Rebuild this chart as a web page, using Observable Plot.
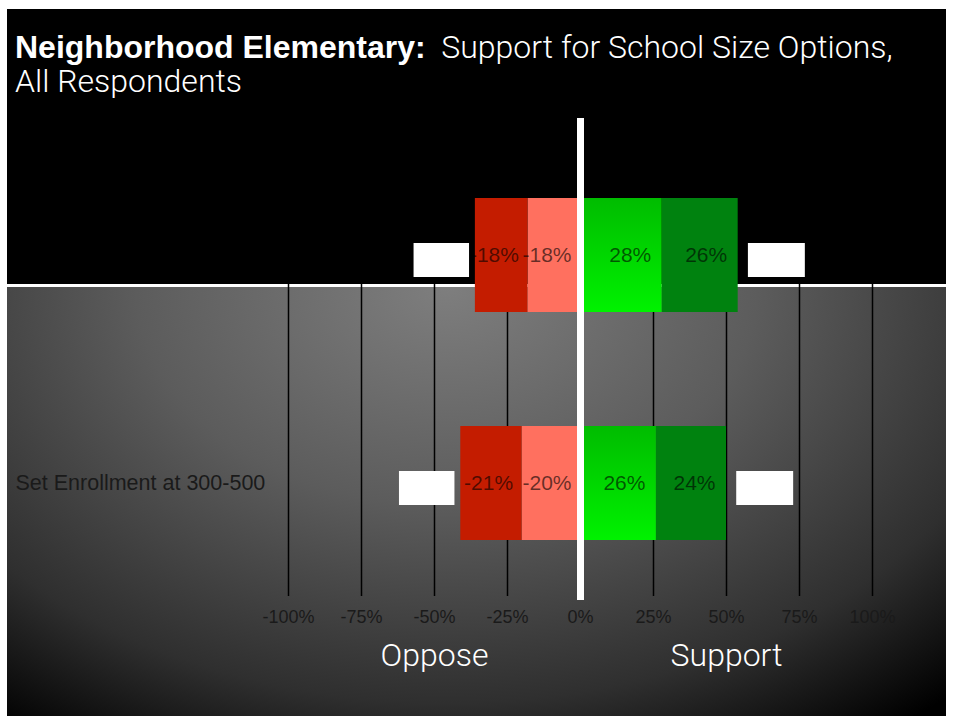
<!DOCTYPE html>
<html>
<head>
<meta charset="utf-8">
<script src="https://cdn.jsdelivr.net/npm/d3@7"></script>
<script src="https://cdn.jsdelivr.net/npm/@observablehq/plot@0.6"></script>
<style>
  html, body { margin: 0; padding: 0; background: #fff; }
  #stage { position: relative; width: 953px; height: 724px; overflow: hidden; }
  #bgTop { position: absolute; left: 7px; top: 9px; width: 939px; height: 707px; background: #000; }
  #bgLower {
    position: absolute; left: 7px; top: 284px; width: 939px; height: 429px;
    border-top: 3px solid #fff;
    background: radial-gradient(ellipse 740px 520px at 440px 0px, #7e7e7e 0%, #5c5c5c 42%, #2f2f2f 80%, #000 104%);
  }
  #title {
    position: absolute; left: 15px; top: 30px; color: #fff;
    font-size: 32px; line-height: 34px; white-space: nowrap;
    font-family: "Liberation Sans", Arial, sans-serif;
  }
  #title b { font-weight: 700; font-family: "Liberation Sans", Arial, sans-serif; }
  #title span { font-family: Roboto, "Liberation Sans", sans-serif; font-weight: 300; }
  #chart { position: absolute; left: 0; top: 0; }
</style>
</head>
<body>
<div id="stage">
  <div id="bgTop"></div>
  <div id="bgLower"></div>
  <div id="title"><b>Neighborhood Elementary:</b><span>&nbsp; Support for School Size Options,<br>All Respondents</span></div>
  <div id="chart"></div>
</div>
<script>
// ---- data ----
const rows = ["", "Set Enrollment at 300-500"];
const strongOppose = [-18, -21];
const oppose = [-18, -20];
const support = [28, 26];
const strongSupport = [26, 24];
const levels = ["Oppose", "Strongly oppose", "Support", "Strongly support"];
const levelColors = ["#ff705f", "#c41c00", "url(#greenGrad)", "#00820f"];
const xTicks = [-100, -75, -50, -25, 0, 25, 50, 75, 100];
const sideLabels = ["Oppose", "Support"];
const sidePositions = [-50, 50];

// ---- tables built from the arrays ----
const table = rows.flatMap((r, i) => [
  {row: r, level: levels[0], value: oppose[i]},
  {row: r, level: levels[1], value: strongOppose[i]},
  {row: r, level: levels[2], value: support[i]},
  {row: r, level: levels[3], value: strongSupport[i]}
]);
const oppTotals = rows.map((r, i) => oppose[i] + strongOppose[i]);
const supTotals = rows.map((r, i) => support[i] + strongSupport[i]);
const boxes = rows.flatMap((r, i) => [
  {row: r, x1: oppTotals[i] - 21, x2: oppTotals[i] - 2},
  {row: r, x1: supTotals[i] + 3.5, x2: supTotals[i] + 23}
]);
const sides = sideLabels.map((t, i) => ({label: t, x: sidePositions[i]}));

const fmt = d => `${d}%`;
const neg = table.filter(d => d.value < 0);
const pos = table.filter(d => d.value >= 0);
const labelStyle = {fill: "#000", fillOpacity: 0.6, fontSize: 21, textAnchor: "end"};

const chart = Plot.plot({
  width: 953,
  height: 724,
  marginLeft: 288,
  marginRight: 81,
  marginTop: 118,
  marginBottom: 128,
  style: {background: "transparent", color: "#1e1e1e", fontFamily: "'Liberation Sans', Arial, sans-serif"},
  x: {domain: [-100, 100], axis: null},
  y: {domain: rows, paddingInner: 0.5, paddingOuter: 0.298, align: 0.588, axis: null},
  color: {domain: levels, range: levelColors},
  marks: [
    Plot.ruleX(xTicks.filter(d => d !== 0), {stroke: "#000", strokeWidth: 1.5}),
    Plot.barX(table, Plot.stackX({x: "value", y: "row", fill: "level", order: null})),
    // labels sit at the inner-right edge of each segment
    Plot.text(neg, Plot.stackX1({x: "value", y: "row", text: d => fmt(d.value), ...labelStyle, dx: -9})),
    Plot.text(pos, Plot.stackX2({x: "value", y: "row", text: d => fmt(d.value), ...labelStyle, dx: -11})),
    Plot.ruleX([0], {stroke: "#fff", strokeWidth: 7, insetBottom: -4}),
    Plot.barX(boxes, {x1: "x1", x2: "x2", y: "row", fill: "#fff", insetTop: 45, insetBottom: 35}),
    Plot.axisX(xTicks, {anchor: "bottom", tickSize: 0, tickPadding: 14, tickFormat: fmt, fontSize: 18, color: "#1a1a1a"}),
    Plot.axisY({anchor: "left", label: null, tickSize: 0, tickPadding: 273, textAnchor: "start", fontSize: 21.5, color: "#1a1a1a"}),
    Plot.text(sides, {x: "x", frameAnchor: "bottom", text: "label", dy: 69, fill: "#fff",
      fontSize: 32, fontWeight: 300, fontFamily: "Roboto, 'Liberation Sans', sans-serif"})
  ]
});
// vertical gradient for the bright "Support" segments
const ns = "http://www.w3.org/2000/svg";
const defs = document.createElementNS(ns, "defs");
const grad = document.createElementNS(ns, "linearGradient");
grad.setAttribute("id", "greenGrad");
grad.setAttribute("x1", "0"); grad.setAttribute("y1", "0");
grad.setAttribute("x2", "0"); grad.setAttribute("y2", "1");
[["0", "#00bc00"], ["1", "#00f200"]].forEach(([o, c]) => {
  const s = document.createElementNS(ns, "stop");
  s.setAttribute("offset", o); s.setAttribute("stop-color", c);
  grad.appendChild(s);
});
defs.appendChild(grad);
chart.insertBefore(defs, chart.firstChild);
document.getElementById("chart").appendChild(chart);
</script>
</body>
</html>
